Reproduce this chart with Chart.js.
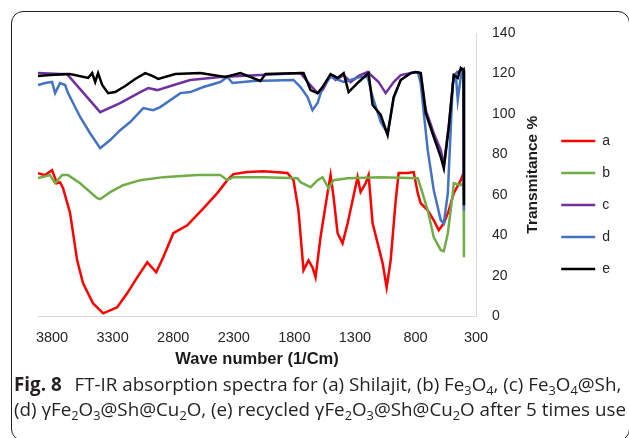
<!DOCTYPE html>
<html>
<head>
<meta charset="utf-8">
<script src="https://cdn.jsdelivr.net/npm/chart.js@4.4.1/dist/chart.umd.min.js"></script>
<style>
  html, body { margin: 0; padding: 0; background: #fff; }
  body { width: 629px; height: 438px; overflow: hidden; position: relative; }
  #frame { position: absolute; left: 11px; top: 11px; width: 619px; height: 430px; box-sizing: border-box;
           border: 1.3px solid #231f20; border-radius: 12px; }
  #wrap { position: absolute; left: 0; top: 0; width: 640px; height: 377px; }
  #caption { position: absolute; left: 14px; top: 372px; width: 640px; font-family: "Open Sans", sans-serif;
             font-size: 18.8px; line-height: 25px; color: #231f20; white-space: nowrap; }
  #caption b { font-weight: 700; margin-right: 8px; }
  #caption sub { font-size: 0.68em; vertical-align: -0.3em; line-height: 0; }
</style>
</head>
<body>
<div id="frame"></div>
<div id="wrap"><canvas id="c"></canvas></div>
<div id="caption">
  <div><b>Fig. 8</b> FT-IR absorption spectra for (a) Shilajit, (b) Fe<sub>3</sub>O<sub>4</sub>, (c) Fe<sub>3</sub>O<sub>4</sub>@Sh,</div>
  <div>(d) γFe<sub>2</sub>O<sub>3</sub>@Sh@Cu<sub>2</sub>O, (e) recycled γFe<sub>2</sub>O<sub>3</sub>@Sh@Cu<sub>2</sub>O after 5 times use</div>
</div>
<script>
// ---- data (wavenumber in 1/cm, transmittance in %) ----
const seriesNames = ["a", "b", "c", "d", "e"];
const xTickValues = [3800, 3300, 2800, 2300, 1800, 1300, 800, 300];

const aWave = [3916,3858,3800,3759,3734,3709,3651,3593,3544,3461,3378,3262,3180,3097,3014,2940,2882,2799,2684,2551,2436,2353,2303,2187,2055,1857,1807,1766,1724,1683,1650,1625,1584,1526,1501,1476,1443,1402,1360,1319,1278,1253,1211,1187,1154,1112,1071,1038,1005,963,939,864,815,781,757,699,649,608,566,525,484,426,401];
const aT    = [70.8,69.8,72.2,65.8,66.3,63.3,51,27.7,16.3,6.4,1.5,4.5,11.4,19.3,26.7,21.8,29.2,41.1,45,53.4,60.9,67.3,70.3,71.3,71.7,70.8,67.3,52.4,22.8,27.7,24.2,19.3,39.1,60.9,69.8,58.9,41.1,36.1,46,57.4,68.8,61.4,65.8,69.8,46,36.1,26.2,14.3,27.7,57.4,70.8,70.8,71.3,60.9,55.9,52.4,47.5,42.6,46,52.4,60.9,67.3,71.3];

const bWave = [3916,3817,3775,3717,3668,3568,3428,3403,3320,3213,3072,2882,2601,2411,2353,2303,2055,1774,1749,1666,1608,1567,1517,1476,1360,1087,781,757,699,649,591,566,533,492,484,426,403,400];
const bT    = [68.3,69.8,65.8,69.8,69.8,65.8,58.4,57.9,61.4,64.8,67.3,68.8,69.8,69.8,67.3,68.8,68.8,68.3,66.3,63.8,67.3,68.8,63.3,67.3,68.3,68.8,68.3,63.8,52.4,39.1,32.7,32.2,41.1,60.9,65.8,64.8,65.8,29.2];

const cWave = [3916,3734,3676,3527,3403,3238,3072,3006,2932,2741,2659,2411,2080,1749,1683,1608,1567,1501,1460,1393,1336,1269,1195,1104,1046,980,922,798,757,715,649,591,566,525,484,426,405,401];
const cT    = [120.2,119.7,119.7,109.4,100.9,105.4,110.8,112.8,111.8,115.3,116.8,118.3,119.2,120.2,115.3,110.3,111.8,119.2,116.8,119.2,115.8,118.8,120.7,115.8,110.3,115.8,119.2,120.7,120.2,101.9,90.5,82.1,74.7,94.5,119.2,121.7,121,60];

const dWave = [3916,3858,3800,3775,3734,3692,3668,3568,3486,3403,3320,3238,3155,3047,2965,2907,2741,2659,2551,2411,2353,2311,2138,1807,1749,1691,1650,1608,1567,1501,1393,1253,1195,1154,1087,1030,980,922,839,781,757,699,649,591,566,533,492,467,451,426,409,403,400];
const dT    = [114.3,115.3,115.8,110.3,115.3,114.3,110.3,98.5,90.5,83.1,87.1,92,96,102.9,101.9,103.4,110.3,110.8,113.3,115.8,118.3,115.3,116.3,116.8,113.3,108.4,101.9,105.4,113.3,118.3,115.8,118.3,118.3,108.4,96,90.5,107.9,116.8,120.2,120.7,115.3,82.1,62.3,47.5,46,60.9,115.3,119.2,106.9,118.3,121.7,121,52.4];

const eWave = [3916,3817,3651,3502,3469,3444,3420,3386,3337,3279,3196,3114,3031,2973,2923,2783,2576,2369,2245,2080,2038,1724,1666,1608,1567,1501,1443,1393,1352,1269,1187,1154,1087,1030,980,922,839,798,757,715,649,591,566,525,484,451,426,409,403,400];
const eT    = [118.8,119.2,119.7,117.8,120.2,115.8,120.2,114.3,110.3,110.8,113.8,117.3,120.2,118.8,117.3,119.7,120.2,118.3,120.2,116.3,119.7,120.2,111.8,110.3,113.3,119.7,117.8,120.2,110.8,115.8,120.2,104.4,99.5,89.6,108.4,116.8,120.2,120.7,120.2,100.4,88.6,78.7,73.2,93.5,119.2,117.8,122.7,121.7,122,54.9];

const seriesColors = ["#ff0000", "#70ad47", "#7030a0", "#4472c4", "#000000"];
// ---------------------------------------------------------

const waves = [aWave, bWave, cWave, dWave, eWave];
const vals  = [aT, bT, cT, dT, eT];
const pts = (w, v) => w.map((x, i) => ({ x: x, y: v[i] }));

const FONT = "'Liberation Sans', Arial, sans-serif";
const yTitleOpts = { text: "Transmitance %", font: { family: FONT, size: 15.5, weight: "bold" }, padTop: 0.7, padBottom: -7.5 };

const yTitlePlugin = {
  id: "yTitleLeftRotated",
  afterDraw(chart) {
    const s = chart.scales.y;
    const ctx = chart.ctx;
    const lh = yTitleOpts.font.size * 1.2;
    const x = s.right - yTitleOpts.padTop - lh / 2;
    const y = (s.top + s.bottom) / 2;
    ctx.save();
    ctx.translate(x, y);
    ctx.rotate(-Math.PI / 2);
    ctx.textAlign = "center";
    ctx.textBaseline = "middle";
    ctx.fillStyle = "#1a1a1a";
    ctx.font = "bold " + yTitleOpts.font.size + "px " + FONT;
    ctx.fillText(yTitleOpts.text, 0, 0);
    ctx.restore();
  }
};

new Chart(document.getElementById("c"), {
  type: "line",
  data: {
    datasets: seriesNames.map((n, i) => ({
      label: n,
      data: pts(waves[i], vals[i]),
      borderColor: seriesColors[i],
      backgroundColor: seriesColors[i],
      borderWidth: 2.5,
      pointRadius: 0,
      tension: 0,
      fill: false,
      order: seriesNames.length - i
    }))
  },
  options: {
    responsive: true,
    maintainAspectRatio: false,
    animation: false,
    events: [],
    layout: { padding: { left: 38, top: 33, right: 20, bottom: 0 } },
    plugins: {
      tooltip: { enabled: false },
      legend: {
        position: "right",
        align: "center",
        labels: {
          usePointStyle: true,
          pointStyle: "line",
          pointStyleWidth: 34,
          boxHeight: 14,
          padding: 18,
          color: "#262626",
          font: { family: FONT, size: 14 },
          sort: (p, q) => p.datasetIndex - q.datasetIndex
        }
      }
    },
    scales: {
      x: {
        type: "linear",
        reverse: true,
        min: 300,
        max: 3916,
        afterBuildTicks: (scale) => { scale.ticks = xTickValues.map(v => ({ value: v })); },
        grid: { display: false, drawTicks: false },
        border: { display: true, color: "#d9d9d9", width: 1 },
        ticks: { padding: 12.6, maxRotation: 0, autoSkip: false, color: "#262626",
                 font: { family: FONT, size: 14.5 }, callback: (v) => String(v) },
        title: { display: true, text: "Wave number (1/Cm)", color: "#1a1a1a",
                 font: { family: FONT, size: 16.5, weight: "bold" }, padding: { top: -9.9, bottom: 8.1 } }
      },
      y: {
        position: "right",
        min: 0,
        max: 140,
        grid: { display: false, drawTicks: false },
        border: { display: true, color: "#d9d9d9", width: 1 },
        ticks: { stepSize: 20, padding: 16, color: "#262626", font: { family: FONT, size: 14 } },
        title: { display: true, text: yTitleOpts.text, color: "rgba(0,0,0,0)",
                 font: yTitleOpts.font, padding: { top: yTitleOpts.padTop, bottom: yTitleOpts.padBottom } }
      }
    }
  },
  plugins: [yTitlePlugin]
});
</script>
</body>
</html>
